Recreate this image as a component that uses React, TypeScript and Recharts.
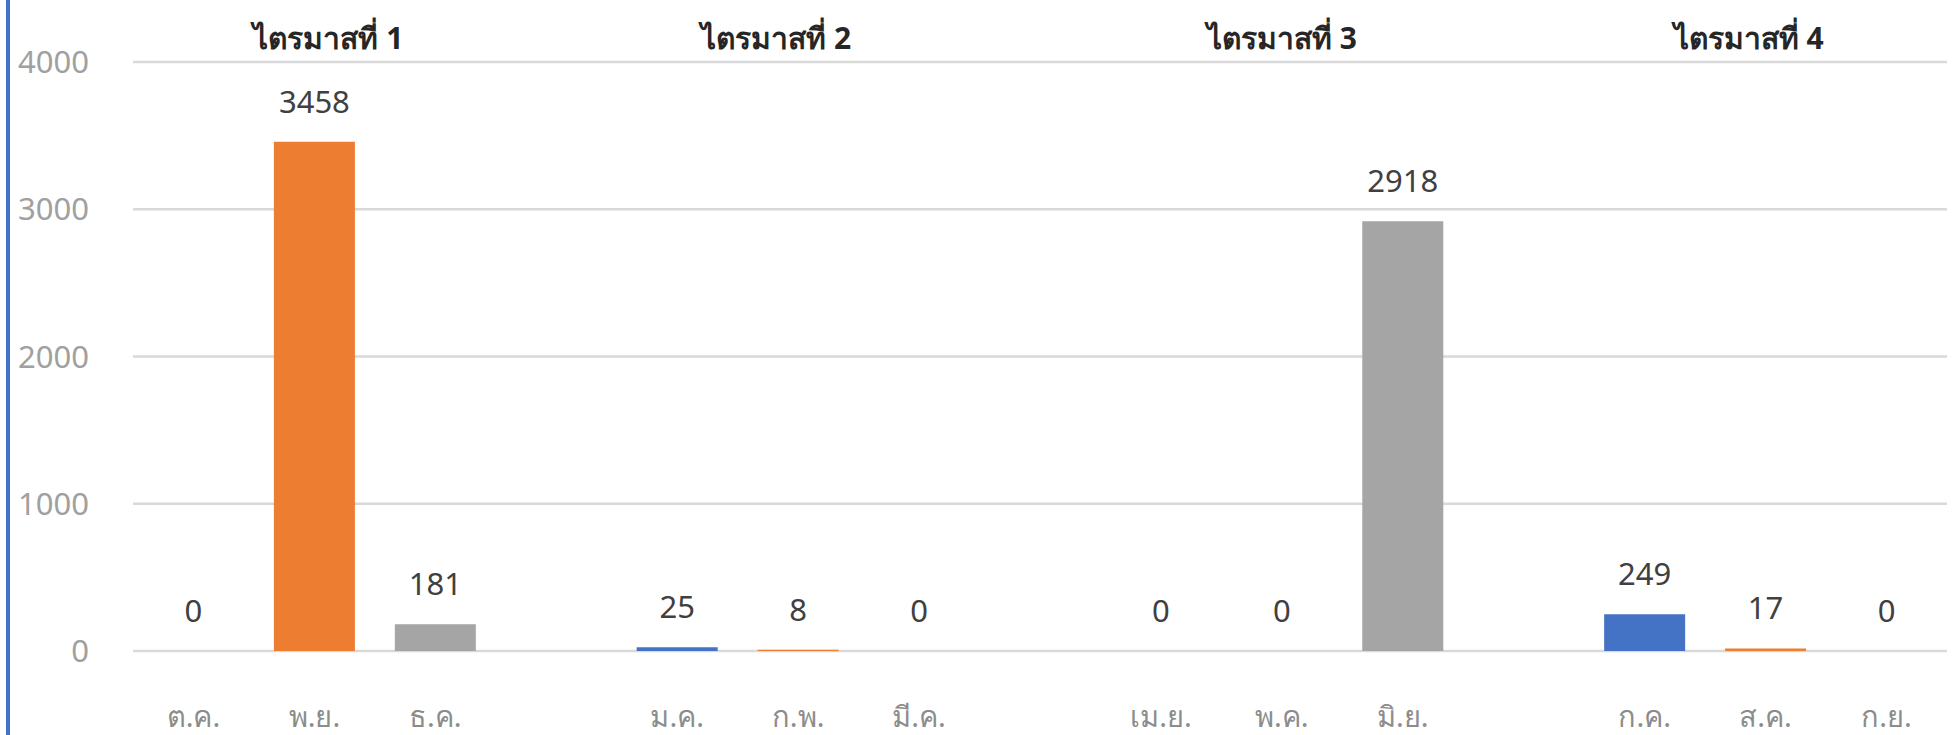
import React from 'react';
import { ComposedChart, Bar, Line, XAxis, YAxis, CartesianGrid, LabelList, Cell } from 'recharts';

const quarters = ['ไตรมาสที่ 1', 'ไตรมาสที่ 2', 'ไตรมาสที่ 3', 'ไตรมาสที่ 4'];
const quarterMonths = [
  ['ต.ค.', 'พ.ย.', 'ธ.ค.'],
  ['ม.ค.', 'ก.พ.', 'มี.ค.'],
  ['เม.ย.', 'พ.ค.', 'มิ.ย.'],
  ['ก.ค.', 'ส.ค.', 'ก.ย.'],
];
const quarterValues = [
  [0, 3458, 181],
  [25, 8, 0],
  [0, 0, 2918],
  [249, 17, 0],
];
const yTicks = [0, 1000, 2000, 3000, 4000];

// excel default palette, one colour per month position inside a quarter
const monthColors = ['#4472C4', '#ED7D31', '#A5A5A5'];
// the quarter titles are loose text boxes, not exactly centred
const titleShift = [14, -22, 0, -17];

type Row = { key: string; month: string; quarter: string; qi: number; value: number | null; pos: number };

const rows: Row[] = [];
quarters.forEach((q, qi) => {
  if (qi > 0) rows.push({ key: `gap${qi}`, month: '', quarter: '', qi, value: null, pos: -1 });
  quarterMonths[qi].forEach((m, mi) => {
    rows.push({ key: `${qi}-${mi}`, month: m, quarter: mi === 1 ? q : '', qi, value: quarterValues[qi][mi], pos: mi });
  });
});

const FONT = '"Noto Sans", "Segoe UI", sans-serif';

const MonthTick = (props: any) => {
  const { x, y, payload } = props;
  const row = rows[payload.index];
  if (!row || !row.month) return null;
  return (
    <text x={x} y={y + 68} textAnchor="middle" fontSize={29} fill="#8c8c8c" fontFamily={FONT}>
      {row.month}
    </text>
  );
};

const QuarterTick = (props: any) => {
  const { x, y, payload } = props;
  const row = rows[payload.index];
  if (!row || !row.quarter) return null;
  return (
    <text x={x + titleShift[row.qi]} y={y - 5} textAnchor="middle" fontSize={30} fontWeight="bold" fill="#262626" fontFamily={FONT}>
      {row.quarter}
    </text>
  );
};

const ValueTick = (props: any) => {
  const { y, payload } = props;
  return (
    <text x={89} y={y} dy={11} textAnchor="end" fontSize={31} fill="#a0a0a0" fontFamily={FONT}>
      {payload.value}
    </text>
  );
};

export default function App() {
  return (
    <div style={{ position: 'relative', width: 1955, height: 735, background: '#fff' }}>
      <style>{'body{margin:0}'}</style>
      <div style={{ position: 'absolute', left: 6, top: 0, width: 4, height: 735, background: '#4472C4' }} />
      <ComposedChart
        width={1955}
        height={735}
        data={rows}
        margin={{ top: 0, right: 8, left: 10, bottom: 0 }}
        barCategoryGap="16.5%"
      >
        <CartesianGrid vertical={false} stroke="#d9d9d9" strokeWidth={2.5} />
        <XAxis
          dataKey="key"
          height={84}
          axisLine={false}
          tickLine={false}
          interval={0}
          tick={<MonthTick />}
        />
        <XAxis
          xAxisId="top"
          dataKey="key"
          orientation="top"
          height={62}
          axisLine={false}
          tickLine={false}
          interval={0}
          tick={<QuarterTick />}
        />
        <YAxis
          width={123}
          domain={[0, 4000]}
          ticks={yTicks}
          axisLine={false}
          tickLine={false}
          tick={<ValueTick />}
        />
        <Bar dataKey="value" isAnimationActive={false}>
          {rows.map((r) => (
            <Cell key={r.key} fill={r.pos >= 0 ? monthColors[r.pos] : 'none'} />
          ))}
        </Bar>
        {/* invisible line only carries the data labels, so zero values get a "0" too */}
        <Line
          dataKey="value"
          stroke="none"
          dot={false}
          activeDot={false}
          legendType="none"
          isAnimationActive={false}
        >
          <LabelList dataKey="value" position="top" offset={29} fontSize={31} fill="#404040" fontFamily={FONT} />
        </Line>
      </ComposedChart>
    </div>
  );
}
